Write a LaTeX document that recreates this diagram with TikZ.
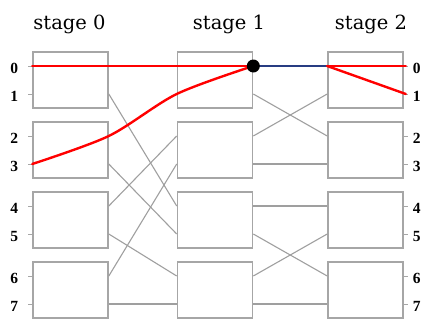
\documentclass[tikz,border=0pt]{standalone}
\usepackage{fontspec}
\setmainfont{Liberation Serif}
\newfontfamily\stagefont{DejaVu Serif}
\usetikzlibrary{calc}
\definecolor{linkblue}{RGB}{40,60,130}
\begin{document}
\begin{tikzpicture}[x=1pt,y=-1pt,
  box/.style={draw=gray!70,line width=1.6pt,minimum width=75pt,minimum height=56pt,inner sep=0pt},
  wire/.style={draw=gray!75,line width=1.1pt},
  porttick/.style={draw=gray!70,line width=0.8pt},
  hot/.style={draw=red,line width=2.4pt,line cap=round,line join=round},
  busy/.style={draw=linkblue,line width=2.6pt},
  portlabel/.style={font=\bfseries\fontsize{15.5}{15.5}\selectfont,inner sep=0pt},
  stagelabel/.style={font=\stagefont\fontsize{19.5}{20}\selectfont,anchor=base,inner sep=0pt}]
\useasboundingbox (0,0) rectangle (427,324);

% switch boxes of the three stages, with their input and output ports
\foreach \s/\x in {0/70.5,1/215,2/365.5}{
  \foreach \k [evaluate=\k as \a using int(2*\k), evaluate=\k as \b using int(2*\k+1)] in {0,1,2,3}{
    \node[box] (b\s\k) at (\x,{80+70*\k}) {};
    \coordinate (in\s-\a) at ($(b\s\k.west)+(0,-14)$);
    \coordinate (in\s-\b) at ($(b\s\k.west)+(0,14)$);
    \coordinate (out\s-\a) at ($(b\s\k.east)+(0,-14)$);
    \coordinate (out\s-\b) at ($(b\s\k.east)+(0,14)$);
  }
}

% stage titles
\node[stagelabel] (st0) at (69.5,29) {stage 0};
\node[stagelabel] (st1) at (229,29) {stage 1};
\node[stagelabel] (st2) at (371,29) {stage 2};

% inter-stage wiring
\foreach \i/\j in {1/4,3/5,4/2,5/6,6/3,7/7}
  \draw[wire] (out0-\i) -- (in1-\j);
\foreach \i/\j in {1/2,2/1,3/3,4/4,5/6,6/5,7/7}
  \draw[wire] (out1-\i) -- (in2-\j);

% terminal ticks and line numbers
\foreach \n in {0,...,7}{
  \draw[porttick] (in0-\n) -- ++(-4,0);
  \draw[porttick] (out2-\n) -- ++(4,0);
  \node[portlabel] (li\n) at ($(in0-\n)+(-18,2)$) {\n};
  \node[portlabel] (lo\n) at ($(out2-\n)+(13,2)$) {\n};
}

% two routes contending for the same link
\draw[hot] (in0-0) -- (out1-0);
\draw[hot] plot[smooth,tension=0.5] coordinates {(in0-3) (out0-2) (in1-1) (out1-0)};
\draw[busy] (out1-0) -- (in2-0);
\draw[hot] (in2-0) -- ($(out2-0)+(2,0)$);
\draw[hot] (in2-0) -- ($(out2-1)+(2,0)$);
\node[circle,fill=black,minimum size=13pt,inner sep=0pt] (clash) at (out1-0) {};
\end{tikzpicture}
\end{document}
